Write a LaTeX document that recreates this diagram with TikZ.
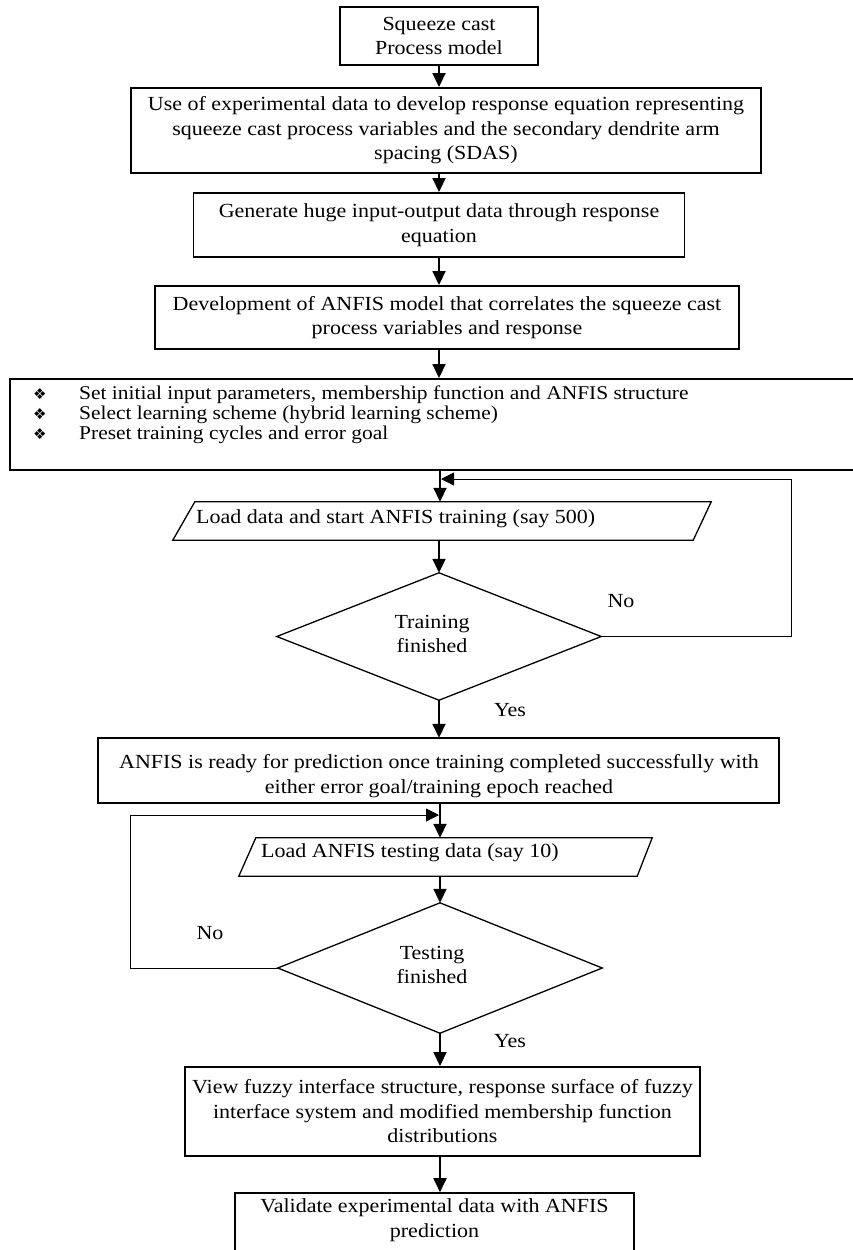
\documentclass[tikz,border=0pt]{standalone}
\usepackage{fontspec}
\setmainfont[FakeStretch=1.1]{Liberation Serif}
\newfontfamily\symfont{DejaVu Sans}
\usetikzlibrary{arrows.meta,calc}
\newcommand{\bul}{\makebox[46pt][l]{{\symfont\fontsize{15}{15}\selectfont ❖}}}
\begin{document}
\begin{tikzpicture}[x=1pt,y=-1pt,
  font=\fontsize{20}{24.5}\selectfont,
  box/.style={draw, line width=1.9pt, rectangle, inner sep=0pt, align=center},
  shp/.style={draw, line width=1.3pt, line join=miter},
  lbl/.style={inner sep=0pt},
  arr/.style={line width=1.8pt, -{Triangle[width=13pt,length=14pt]}},
  loop/.style={line width=1pt},
  loopar/.style={line width=1pt, -{Triangle[width=13pt,length=13pt]}}]
\useasboundingbox (0,0) rectangle (852,1250);

% boxes
\node[box, minimum width=198pt, minimum height=58pt] (b1) at (439,36) {Squeeze cast\\Process model};
\node[box, minimum width=630pt, minimum height=85pt] (b2) at (446,130.5) {Use of experimental data to develop response equation representing\\squeeze cast process variables and the secondary dendrite arm\\spacing (SDAS)};
\node[box, minimum width=491pt, minimum height=64pt] (b3) at (439,225) {Generate huge input-output data through response\\equation};
\node[box, minimum width=584pt, minimum height=63pt] (b4) at (447,317.5) {Development of ANFIS model that correlates the squeeze cast\\process variables and response};
\node[box, minimum width=870pt, minimum height=91pt] (b5) at (445,424.5) {};
\node[lbl, anchor=north west, align=left, font=\fontsize{19.5}{20}\selectfont] (b5t) at (33,386) {\bul Set initial input parameters, membership function and ANFIS structure\\\bul Select learning scheme (hybrid learning scheme)\\\bul Preset training cycles and error goal};

% parallelogram 1
\node[lbl, minimum width=518pt, minimum height=38pt] (p1) at (443,521) {};
\draw[shp] ($(p1.north west)+(11,0)$) -- ($(p1.north east)+(9,0)$) -- ($(p1.south east)+(-9,0)$) -- ($(p1.south west)+(-11,0)$) -- cycle;
\node[lbl, anchor=west] (p1t) at (196,519) {Load data and start ANFIS training (say 500)};

% diamond 1
\node[lbl, minimum width=324pt, minimum height=127pt] (d1) at (439,636.5) {};
\draw[shp] (d1.north) -- (d1.east) -- (d1.south) -- (d1.west) -- cycle;
\node[lbl, align=center] (d1t) at (432,634) {Training\\finished};
\node[lbl] (no1) at (621,601) {No};
\node[lbl] (yes1) at (510,710) {Yes};

% box 6
\node[lbl, minimum width=681pt, minimum height=65pt] (b6) at (438.5,770.5) {};
\begin{scope}
\clip ($(b6.north west)+(1,1)$) rectangle ($(b6.south east)+(-1,-0.8)$);
\node[lbl, align=center] (b6t) at (439,776) {ANFIS is ready for prediction once training completed successfully with\\either error goal/training epoch reached};
\end{scope}
\draw[line width=1.9pt] (b6.north west) rectangle (b6.south east);

% parallelogram 2
\node[lbl, minimum width=397pt, minimum height=38pt] (p2) at (446,857) {};
\draw[shp] ($(p2.north west)+(8.5,0)$) -- ($(p2.north east)+(7.5,0)$) -- ($(p2.south east)+(-7.5,0)$) -- ($(p2.south west)+(-8.5,0)$) -- cycle;
\node[lbl, anchor=west] (p2t) at (261,853) {Load ANFIS testing data (say 10)};

% diamond 2
\node[lbl, minimum width=324pt, minimum height=130pt] (d2) at (440,968) {};
\draw[shp] (d2.north) -- (d2.east) -- (d2.south) -- (d2.west) -- cycle;
\node[lbl, align=center] (d2t) at (432,965) {Testing\\finished};
\node[lbl] (no2) at (210,933) {No};
\node[lbl] (yes2) at (510,1041) {Yes};

% box 7, 8
\node[box, minimum width=515pt, minimum height=89pt] (b7) at (442.5,1111.5) {View fuzzy interface structure, response surface of fuzzy\\interface system and modified membership function\\distributions};
\node[box, line width=1.6pt, minimum width=399pt, minimum height=80pt] (b8) at (434.5,1233) {};
\node[lbl, align=center] (b8t) at (434.5,1220) {Validate experimental data with ANFIS\\prediction};

% connectors
\draw[arr] (b1.south) -- (b1.south |- b2.north);
\draw[arr] (b3.north |- b2.south) -- (b3.north);
\draw[arr] (b3.south) -- (b3.south |- b4.north);
\draw[arr] (b3.south |- b4.south) -- (b3.south |- b5.north);
\coordinate (c1) at (440,0);
\draw[arr] (c1 |- b5.south) -- (c1 |- p1.north);
\draw[arr] (d1.south |- p1.south) -- (d1.north);
\draw[arr] (d1.south) -- (d1.south |- b6.north);
\coordinate (r1) at (791,479);
\draw[loop] (d1.east) -| (r1);
\draw[loopar] (r1) -- (441,479);
\draw[arr] (c1 |- b6.south) -- (c1 |- p2.north);
\draw[arr] (d2.north |- p2.south) -- (d2.north);
\coordinate (l2) at (130,815);
\draw[loop] (d2.west) -| (l2);
\draw[loopar] (l2) -- (439,815);
\draw[arr] (d2.south) -- (d2.south |- b7.north);
\draw[arr] (d2.south |- b7.south) -- (d2.south |- b8.north);
\end{tikzpicture}
\end{document}
